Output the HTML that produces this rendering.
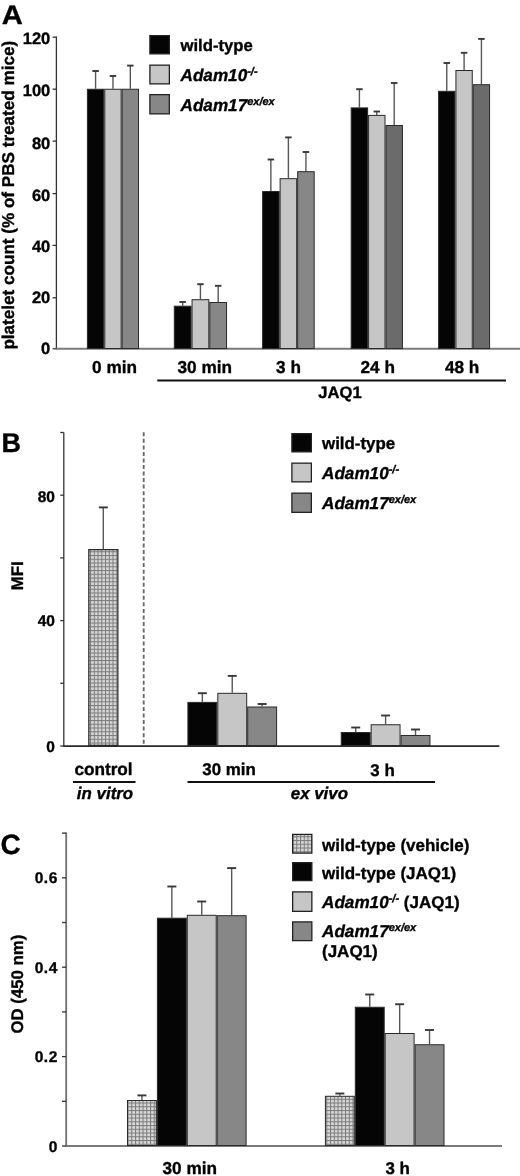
<!DOCTYPE html><html><head><meta charset="utf-8"><title>Figure</title><style>html,body{margin:0;padding:0;background:#fff;overflow:hidden;}svg{display:block;will-change:transform;}svg text{stroke:#000;stroke-width:0.35px;text-rendering:geometricPrecision;}</style></head><body>
<svg width="520" height="1176" viewBox="0 0 520 1176" font-family="'Liberation Sans', sans-serif" font-weight="bold" fill="#000">
<defs><pattern id="dots" width="3.75" height="3.75" patternUnits="userSpaceOnUse"><rect width="3.75" height="3.75" fill="#dadada"/><rect x="0" y="0" width="3.75" height="1.05" fill="#7c7c7c"/><rect x="0" y="0" width="1.05" height="3.75" fill="#7c7c7c"/></pattern></defs>
<rect width="520" height="1176" fill="#fff"/>
<text transform="translate(1.8,23.6) scale(1.08,1)" font-size="27">A</text>
<line x1="56.40" y1="36.60" x2="56.40" y2="349.40" stroke="#333333" stroke-width="1.3" />
<line x1="55.75" y1="348.70" x2="520.00" y2="348.70" stroke="#7a7a7a" stroke-width="1.9" />
<line x1="52.60" y1="37.20" x2="56.40" y2="37.20" stroke="#333333" stroke-width="1.3" />
<line x1="52.60" y1="89.20" x2="56.40" y2="89.20" stroke="#333333" stroke-width="1.3" />
<line x1="52.60" y1="141.10" x2="56.40" y2="141.10" stroke="#333333" stroke-width="1.3" />
<line x1="52.60" y1="193.60" x2="56.40" y2="193.60" stroke="#333333" stroke-width="1.3" />
<line x1="52.60" y1="245.40" x2="56.40" y2="245.40" stroke="#333333" stroke-width="1.3" />
<line x1="52.60" y1="297.80" x2="56.40" y2="297.80" stroke="#333333" stroke-width="1.3" />
<line x1="52.60" y1="348.70" x2="56.40" y2="348.70" stroke="#555" stroke-width="1.5" />
<text x="50.30" y="44.20" font-size="16.5" text-anchor="end" >120</text>
<text x="50.30" y="95.90" font-size="16.5" text-anchor="end" >100</text>
<text x="50.30" y="149.00" font-size="16.5" text-anchor="end" >80</text>
<text x="50.30" y="200.80" font-size="16.5" text-anchor="end" >60</text>
<text x="50.30" y="251.90" font-size="16.5" text-anchor="end" >40</text>
<text x="50.30" y="303.10" font-size="16.5" text-anchor="end" >20</text>
<text x="50.30" y="354.10" font-size="16.5" text-anchor="end" >0</text>
<text transform="translate(14.2,349.6) rotate(-90)" font-size="17.1" x="0" y="0">platelet count (% of PBS treated mice)</text>
<line x1="95.59" y1="71.00" x2="95.59" y2="88.75" stroke="#585858" stroke-width="1.4" />
<line x1="92.34" y1="71.00" x2="98.84" y2="71.00" stroke="#383838" stroke-width="1.9" />
<rect x="87.40" y="89.25" width="16.37" height="259.25" fill="#050505" stroke="#2a2a2a" stroke-width="1.0"/>
<line x1="112.96" y1="76.00" x2="112.96" y2="88.75" stroke="#585858" stroke-width="1.4" />
<line x1="109.71" y1="76.00" x2="116.21" y2="76.00" stroke="#383838" stroke-width="1.9" />
<rect x="104.77" y="89.25" width="16.37" height="259.25" fill="#c6c6c6" stroke="#2a2a2a" stroke-width="1.0"/>
<line x1="130.33" y1="65.60" x2="130.33" y2="88.75" stroke="#585858" stroke-width="1.4" />
<line x1="127.08" y1="65.60" x2="133.58" y2="65.60" stroke="#383838" stroke-width="1.9" />
<rect x="122.14" y="89.25" width="16.37" height="259.25" fill="#878787" stroke="#2a2a2a" stroke-width="1.0"/>
<line x1="182.68" y1="302.00" x2="182.68" y2="305.70" stroke="#585858" stroke-width="1.4" />
<line x1="179.43" y1="302.00" x2="185.93" y2="302.00" stroke="#383838" stroke-width="1.9" />
<rect x="174.30" y="306.20" width="16.75" height="42.30" fill="#050505" stroke="#2a2a2a" stroke-width="1.0"/>
<line x1="200.43" y1="284.20" x2="200.43" y2="299.20" stroke="#585858" stroke-width="1.4" />
<line x1="197.18" y1="284.20" x2="203.68" y2="284.20" stroke="#383838" stroke-width="1.9" />
<rect x="192.05" y="299.70" width="16.75" height="48.80" fill="#c6c6c6" stroke="#2a2a2a" stroke-width="1.0"/>
<line x1="218.18" y1="285.80" x2="218.18" y2="302.00" stroke="#585858" stroke-width="1.4" />
<line x1="214.93" y1="285.80" x2="221.43" y2="285.80" stroke="#383838" stroke-width="1.9" />
<rect x="209.80" y="302.50" width="16.75" height="46.00" fill="#878787" stroke="#2a2a2a" stroke-width="1.0"/>
<line x1="270.87" y1="159.50" x2="270.87" y2="191.00" stroke="#585858" stroke-width="1.4" />
<line x1="267.62" y1="159.50" x2="274.12" y2="159.50" stroke="#383838" stroke-width="1.9" />
<rect x="262.60" y="191.50" width="16.53" height="157.00" fill="#050505" stroke="#2a2a2a" stroke-width="1.0"/>
<line x1="288.39" y1="137.40" x2="288.39" y2="178.20" stroke="#585858" stroke-width="1.4" />
<line x1="285.14" y1="137.40" x2="291.64" y2="137.40" stroke="#383838" stroke-width="1.9" />
<rect x="280.13" y="178.70" width="16.53" height="169.80" fill="#c6c6c6" stroke="#2a2a2a" stroke-width="1.0"/>
<line x1="305.93" y1="152.00" x2="305.93" y2="171.20" stroke="#585858" stroke-width="1.4" />
<line x1="302.68" y1="152.00" x2="309.18" y2="152.00" stroke="#383838" stroke-width="1.9" />
<rect x="297.66" y="171.70" width="16.53" height="176.80" fill="#878787" stroke="#2a2a2a" stroke-width="1.0"/>
<line x1="359.40" y1="89.20" x2="359.40" y2="107.40" stroke="#585858" stroke-width="1.4" />
<line x1="356.15" y1="89.20" x2="362.65" y2="89.20" stroke="#383838" stroke-width="1.9" />
<rect x="351.20" y="107.90" width="16.40" height="240.60" fill="#050505" stroke="#2a2a2a" stroke-width="1.0"/>
<line x1="376.80" y1="111.50" x2="376.80" y2="114.90" stroke="#585858" stroke-width="1.4" />
<line x1="373.55" y1="111.50" x2="380.05" y2="111.50" stroke="#383838" stroke-width="1.9" />
<rect x="368.60" y="115.40" width="16.40" height="233.10" fill="#c6c6c6" stroke="#2a2a2a" stroke-width="1.0"/>
<line x1="394.20" y1="83.00" x2="394.20" y2="125.00" stroke="#585858" stroke-width="1.4" />
<line x1="390.95" y1="83.00" x2="397.45" y2="83.00" stroke="#383838" stroke-width="1.9" />
<rect x="386.00" y="125.50" width="16.40" height="223.00" fill="#6b6b6b" stroke="#2a2a2a" stroke-width="1.0"/>
<line x1="446.76" y1="63.00" x2="446.76" y2="90.80" stroke="#585858" stroke-width="1.4" />
<line x1="443.51" y1="63.00" x2="450.01" y2="63.00" stroke="#383838" stroke-width="1.9" />
<rect x="438.60" y="91.30" width="16.33" height="257.20" fill="#050505" stroke="#2a2a2a" stroke-width="1.0"/>
<line x1="464.10" y1="52.80" x2="464.10" y2="70.00" stroke="#585858" stroke-width="1.4" />
<line x1="460.85" y1="52.80" x2="467.35" y2="52.80" stroke="#383838" stroke-width="1.9" />
<rect x="455.93" y="70.50" width="16.33" height="278.00" fill="#c6c6c6" stroke="#2a2a2a" stroke-width="1.0"/>
<line x1="481.42" y1="38.90" x2="481.42" y2="84.20" stroke="#585858" stroke-width="1.4" />
<line x1="478.17" y1="38.90" x2="484.67" y2="38.90" stroke="#383838" stroke-width="1.9" />
<rect x="473.26" y="84.70" width="16.33" height="263.80" fill="#6b6b6b" stroke="#2a2a2a" stroke-width="1.0"/>
<rect x="149.90" y="35.65" width="19.45" height="18.20" fill="#050505" stroke="#222" stroke-width="1.3"/>
<text x="180.50" y="51.45" font-size="16.7" text-anchor="start" >wild-type</text>
<rect x="149.90" y="65.15" width="19.45" height="18.70" fill="#c6c6c6" stroke="#222" stroke-width="1.3"/>
<text x="180.50" y="81.20" font-size="16.7" text-anchor="start" ><tspan font-style="italic" font-size="17.15">Adam10</tspan><tspan font-style="italic" font-size="11" dy="-6">-/-</tspan></text>
<rect x="149.90" y="94.65" width="19.45" height="19.20" fill="#878787" stroke="#222" stroke-width="1.3"/>
<text x="180.50" y="110.95" font-size="16.7" text-anchor="start" ><tspan font-style="italic" font-size="17.15">Adam17</tspan><tspan font-style="italic" font-size="11" dy="-6">ex/ex</tspan></text>
<text x="114.50" y="373.20" font-size="17.2" text-anchor="middle" >0 min</text>
<text x="204.80" y="373.20" font-size="17.2" text-anchor="middle" >30 min</text>
<text x="288.50" y="373.20" font-size="17.2" text-anchor="middle" >3 h</text>
<text x="377.75" y="373.20" font-size="17.2" text-anchor="middle" >24 h</text>
<text x="462.10" y="373.20" font-size="17.2" text-anchor="middle" >48 h</text>
<line x1="157.30" y1="380.50" x2="506.00" y2="380.50" stroke="#111" stroke-width="1.8" />
<text x="340.00" y="398.20" font-size="16.6" text-anchor="middle" >JAQ1</text>
<text x="1.50" y="452.40" font-size="27" text-anchor="start" >B</text>
<line x1="63.80" y1="432.50" x2="63.80" y2="746.50" stroke="#333333" stroke-width="1.3" />
<line x1="63.15" y1="746.10" x2="499.30" y2="746.10" stroke="#2a2a2a" stroke-width="1.7" />
<line x1="60.30" y1="746.00" x2="63.80" y2="746.00" stroke="#333333" stroke-width="1.3" />
<line x1="60.30" y1="683.30" x2="63.80" y2="683.30" stroke="#333333" stroke-width="1.3" />
<line x1="60.30" y1="620.60" x2="63.80" y2="620.60" stroke="#333333" stroke-width="1.3" />
<line x1="60.30" y1="557.90" x2="63.80" y2="557.90" stroke="#333333" stroke-width="1.3" />
<line x1="60.30" y1="495.20" x2="63.80" y2="495.20" stroke="#333333" stroke-width="1.3" />
<line x1="60.30" y1="432.50" x2="63.80" y2="432.50" stroke="#333333" stroke-width="1.3" />
<text x="54.90" y="501.60" font-size="15.5" text-anchor="end" >80</text>
<text x="54.90" y="626.20" font-size="15.5" text-anchor="end" >40</text>
<text x="54.90" y="752.00" font-size="15.5" text-anchor="end" >0</text>
<text transform="translate(22.6,590.3) rotate(-90)" font-size="16.8" x="0" y="0">MFI</text>
<line x1="103.30" y1="507.40" x2="103.30" y2="549.00" stroke="#585858" stroke-width="1.4" />
<line x1="98.80" y1="507.40" x2="107.80" y2="507.40" stroke="#383838" stroke-width="1.9" />
<rect x="88.80" y="549.60" width="29.10" height="195.80" fill="url(#dots)" stroke="#2a2a2a" stroke-width="1.2"/>
<line x1="143.70" y1="432.30" x2="143.70" y2="746.00" stroke="#666" stroke-width="1.8" stroke-dasharray="4 2.54"/>
<line x1="202.35" y1="693.20" x2="202.35" y2="701.90" stroke="#585858" stroke-width="1.4" />
<line x1="197.85" y1="693.20" x2="206.85" y2="693.20" stroke="#383838" stroke-width="1.9" />
<rect x="187.90" y="702.40" width="28.90" height="43.10" fill="#050505" stroke="#2a2a2a" stroke-width="1.0"/>
<line x1="232.25" y1="675.90" x2="232.25" y2="692.80" stroke="#585858" stroke-width="1.4" />
<line x1="227.75" y1="675.90" x2="236.75" y2="675.90" stroke="#383838" stroke-width="1.9" />
<rect x="217.80" y="693.30" width="28.90" height="52.20" fill="#c6c6c6" stroke="#2a2a2a" stroke-width="1.0"/>
<line x1="262.15" y1="704.00" x2="262.15" y2="706.50" stroke="#585858" stroke-width="1.4" />
<line x1="257.65" y1="704.00" x2="266.65" y2="704.00" stroke="#383838" stroke-width="1.9" />
<rect x="247.70" y="707.00" width="28.90" height="38.50" fill="#878787" stroke="#2a2a2a" stroke-width="1.0"/>
<line x1="355.70" y1="727.50" x2="355.70" y2="732.00" stroke="#585858" stroke-width="1.4" />
<line x1="351.20" y1="727.50" x2="360.20" y2="727.50" stroke="#383838" stroke-width="1.9" />
<rect x="341.25" y="732.50" width="28.90" height="13.00" fill="#050505" stroke="#2a2a2a" stroke-width="1.0"/>
<line x1="385.60" y1="715.50" x2="385.60" y2="724.25" stroke="#585858" stroke-width="1.4" />
<line x1="381.10" y1="715.50" x2="390.10" y2="715.50" stroke="#383838" stroke-width="1.9" />
<rect x="371.15" y="724.75" width="28.90" height="20.75" fill="#c6c6c6" stroke="#2a2a2a" stroke-width="1.0"/>
<line x1="415.50" y1="729.50" x2="415.50" y2="735.00" stroke="#585858" stroke-width="1.4" />
<line x1="411.00" y1="729.50" x2="420.00" y2="729.50" stroke="#383838" stroke-width="1.9" />
<rect x="401.05" y="735.50" width="28.90" height="10.00" fill="#878787" stroke="#2a2a2a" stroke-width="1.0"/>
<rect x="291.90" y="433.65" width="19.45" height="18.20" fill="#050505" stroke="#222" stroke-width="1.3"/>
<text x="322.00" y="449.45" font-size="16.9" text-anchor="start" >wild-type</text>
<rect x="291.90" y="463.15" width="19.45" height="18.70" fill="#c6c6c6" stroke="#222" stroke-width="1.3"/>
<text x="322.00" y="479.20" font-size="16.9" text-anchor="start" ><tspan font-style="italic" font-size="17.15">Adam10</tspan><tspan font-style="italic" font-size="11" dy="-6">-/-</tspan></text>
<rect x="291.90" y="493.15" width="19.45" height="19.20" fill="#878787" stroke="#222" stroke-width="1.3"/>
<text x="322.00" y="509.45" font-size="16.9" text-anchor="start" ><tspan font-style="italic" font-size="17.15">Adam17</tspan><tspan font-style="italic" font-size="11" dy="-6">ex/ex</tspan></text>
<text x="103.50" y="775.20" font-size="17.2" text-anchor="middle" >control</text>
<line x1="73.00" y1="782.00" x2="135.50" y2="782.00" stroke="#111" stroke-width="1.8" />
<text x="105.00" y="798.80" font-size="16.9" text-anchor="middle" font-style="italic" >in vitro</text>
<text x="229.00" y="775.20" font-size="16.9" text-anchor="middle" >30 min</text>
<text x="382.50" y="775.80" font-size="16.9" text-anchor="middle" >3 h</text>
<line x1="187.50" y1="782.00" x2="435.00" y2="782.00" stroke="#111" stroke-width="1.8" />
<text x="319.40" y="798.80" font-size="16.9" text-anchor="middle" font-style="italic" >ex vivo</text>
<text x="0.60" y="854.40" font-size="28" text-anchor="start" >C</text>
<line x1="66.20" y1="832.50" x2="66.20" y2="1146.50" stroke="#6e6e6e" stroke-width="1.8" />
<line x1="65.55" y1="1146.00" x2="502.00" y2="1146.00" stroke="#7a7a7a" stroke-width="1.9" />
<line x1="62.00" y1="1146.00" x2="66.20" y2="1146.00" stroke="#333333" stroke-width="1.3" />
<line x1="62.00" y1="1101.30" x2="66.20" y2="1101.30" stroke="#333333" stroke-width="1.3" />
<line x1="62.00" y1="1056.60" x2="66.20" y2="1056.60" stroke="#333333" stroke-width="1.3" />
<line x1="62.00" y1="1011.90" x2="66.20" y2="1011.90" stroke="#333333" stroke-width="1.3" />
<line x1="62.00" y1="967.20" x2="66.20" y2="967.20" stroke="#333333" stroke-width="1.3" />
<line x1="62.00" y1="922.50" x2="66.20" y2="922.50" stroke="#333333" stroke-width="1.3" />
<line x1="62.00" y1="877.80" x2="66.20" y2="877.80" stroke="#333333" stroke-width="1.3" />
<line x1="62.00" y1="833.10" x2="66.20" y2="833.10" stroke="#333333" stroke-width="1.3" />
<text x="58.00" y="883.40" font-size="15.5" text-anchor="end"  letter-spacing="0.6">0.6</text>
<text x="58.00" y="972.70" font-size="15.5" text-anchor="end"  letter-spacing="0.6">0.4</text>
<text x="58.00" y="1061.70" font-size="15.5" text-anchor="end"  letter-spacing="0.6">0.2</text>
<text x="57.40" y="1152.10" font-size="15.5" text-anchor="end" >0</text>
<text transform="translate(23.2,1033.5) rotate(-90)" font-size="16.8" x="0" y="0">OD (450 nm)</text>
<line x1="141.95" y1="1095.40" x2="141.95" y2="1100.00" stroke="#585858" stroke-width="1.4" />
<line x1="137.45" y1="1095.40" x2="146.45" y2="1095.40" stroke="#383838" stroke-width="1.9" />
<rect x="127.50" y="1100.50" width="28.90" height="45.00" fill="url(#dots)" stroke="#2a2a2a" stroke-width="1.0"/>
<line x1="171.85" y1="886.50" x2="171.85" y2="917.70" stroke="#585858" stroke-width="1.4" />
<line x1="167.35" y1="886.50" x2="176.35" y2="886.50" stroke="#383838" stroke-width="1.9" />
<rect x="157.40" y="918.20" width="28.90" height="227.30" fill="#050505" stroke="#2a2a2a" stroke-width="1.0"/>
<line x1="201.75" y1="901.50" x2="201.75" y2="914.80" stroke="#585858" stroke-width="1.4" />
<line x1="197.25" y1="901.50" x2="206.25" y2="901.50" stroke="#383838" stroke-width="1.9" />
<rect x="187.30" y="915.30" width="28.90" height="230.20" fill="#c6c6c6" stroke="#2a2a2a" stroke-width="1.0"/>
<line x1="231.65" y1="868.10" x2="231.65" y2="915.20" stroke="#585858" stroke-width="1.4" />
<line x1="227.15" y1="868.10" x2="236.15" y2="868.10" stroke="#383838" stroke-width="1.9" />
<rect x="217.20" y="915.70" width="28.90" height="229.80" fill="#878787" stroke="#2a2a2a" stroke-width="1.0"/>
<line x1="339.85" y1="1093.50" x2="339.85" y2="1095.80" stroke="#585858" stroke-width="1.4" />
<line x1="335.35" y1="1093.50" x2="344.35" y2="1093.50" stroke="#383838" stroke-width="1.9" />
<rect x="325.40" y="1096.30" width="28.90" height="49.20" fill="url(#dots)" stroke="#2a2a2a" stroke-width="1.0"/>
<line x1="369.75" y1="994.50" x2="369.75" y2="1006.75" stroke="#585858" stroke-width="1.4" />
<line x1="365.25" y1="994.50" x2="374.25" y2="994.50" stroke="#383838" stroke-width="1.9" />
<rect x="355.30" y="1007.25" width="28.90" height="138.25" fill="#050505" stroke="#2a2a2a" stroke-width="1.0"/>
<line x1="399.65" y1="1004.25" x2="399.65" y2="1033.00" stroke="#585858" stroke-width="1.4" />
<line x1="395.15" y1="1004.25" x2="404.15" y2="1004.25" stroke="#383838" stroke-width="1.9" />
<rect x="385.20" y="1033.50" width="28.90" height="112.00" fill="#c6c6c6" stroke="#2a2a2a" stroke-width="1.0"/>
<line x1="429.55" y1="1030.00" x2="429.55" y2="1044.25" stroke="#585858" stroke-width="1.4" />
<line x1="425.05" y1="1030.00" x2="434.05" y2="1030.00" stroke="#383838" stroke-width="1.9" />
<rect x="415.10" y="1044.75" width="28.90" height="100.75" fill="#878787" stroke="#2a2a2a" stroke-width="1.0"/>
<rect x="292.65" y="834.40" width="19.20" height="18.70" fill="url(#dots)" stroke="#222" stroke-width="1.3"/>
<rect x="292.65" y="862.65" width="19.20" height="17.95" fill="#050505" stroke="#222" stroke-width="1.3"/>
<rect x="292.65" y="891.90" width="19.20" height="19.45" fill="#c6c6c6" stroke="#222" stroke-width="1.3"/>
<rect x="292.65" y="921.90" width="19.20" height="18.70" fill="#878787" stroke="#222" stroke-width="1.3"/>
<text x="322.00" y="850.50" font-size="17" text-anchor="start" >wild-type (vehicle)</text>
<text x="322.00" y="879.30" font-size="17" text-anchor="start" >wild-type (JAQ1)</text>
<text x="322.00" y="907.80" font-size="17" text-anchor="start" ><tspan font-style="italic" font-size="17.15">Adam10</tspan><tspan font-style="italic" font-size="11" dy="-6">-/-</tspan><tspan dy="6"> (JAQ1)</tspan></text>
<text x="322.00" y="937.30" font-size="17" text-anchor="start" ><tspan font-style="italic" font-size="17.15">Adam17</tspan><tspan font-style="italic" font-size="11" dy="-6">ex/ex</tspan></text>
<text x="322.00" y="957.30" font-size="17" text-anchor="start" >(JAQ1)</text>
<text x="189.80" y="1173.80" font-size="17.2" text-anchor="middle" >30 min</text>
<text x="397.60" y="1173.80" font-size="16.9" text-anchor="middle" >3 h</text>
</svg></body></html>
